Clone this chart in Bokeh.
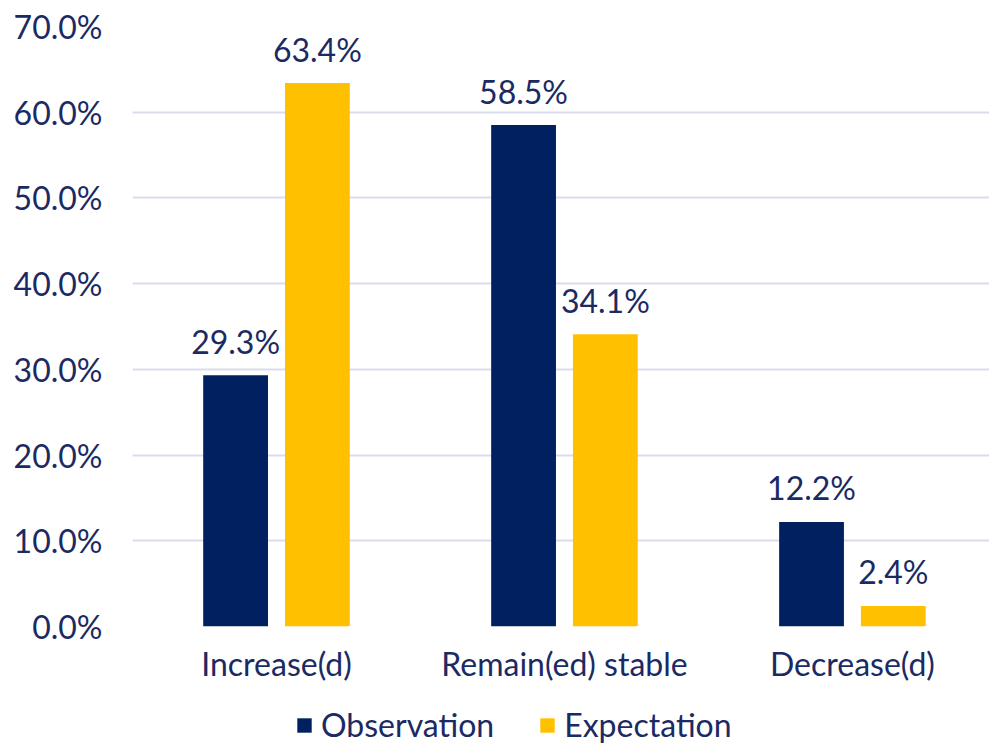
from bokeh.plotting import figure
from bokeh.layouts import column
from bokeh.models import ColumnDataSource, Range1d, Legend, LegendItem, FixedTicker
from bokeh.core.properties import value
from bokeh.embed import file_html
from bokeh.resources import INLINE

categories = ["Increase(d)", "Remain(ed) stable", "Decrease(d)"]
observation = [29.3, 58.5, 12.2]
expectation = [63.4, 34.1, 2.4]
y_ticks = [0, 10, 20, 30, 40, 50, 60, 70]

NAVY = "#002060"
GOLD = "#FFC000"
TEXT = "#1B2A63"
FONT = "Lato"
FS = "32px"

centers = [i + 0.5 for i in range(len(categories))]
off = 0.142
bw = 0.225

src_o = ColumnDataSource(dict(x=[c - off for c in centers], top=observation,
                              lab=[f"{v:.1f}%" for v in observation]))
src_e = ColumnDataSource(dict(x=[c + off for c in centers], top=expectation,
                              lab=[f"{v:.1f}%" for v in expectation]))

p = figure(width=989, height=700, output_backend="svg", toolbar_location=None,
           x_range=Range1d(0, 2.976), y_range=Range1d(0, 70),
           min_border_left=132, min_border_right=0, min_border_top=26, min_border_bottom=74)
p.outline_line_color = None
p.background_fill_color = "white"
p.border_fill_color = "white"

p.xgrid.grid_line_color = None
p.ygrid.grid_line_color = "#D9DCEB"
p.ygrid.grid_line_width = 2
p.ygrid.ticker = FixedTicker(ticks=y_ticks)

r_o = p.vbar(x="x", top="top", width=bw, source=src_o, color=NAVY, line_color=None)
r_e = p.vbar(x="x", top="top", width=bw, source=src_e, color=GOLD, line_color=None)

for s in (src_o, src_e):
    p.text(x="x", y="top", text="lab", source=s, text_align="center", text_baseline="alphabetic",
           y_offset=-34, text_color=TEXT, text_font=value(FONT), text_font_size=FS)

p.yaxis.ticker = FixedTicker(ticks=y_ticks)
p.yaxis.major_label_overrides = {t: f"{t:.1f}%" for t in y_ticks}
p.yaxis.axis_line_color = None
p.yaxis.major_tick_line_color = None
p.yaxis.minor_tick_line_color = None
p.yaxis.major_label_standoff = 24
p.yaxis.major_label_text_font = FONT
p.yaxis.major_label_text_font_size = FS
p.yaxis.major_label_text_color = TEXT

p.xaxis.ticker = FixedTicker(ticks=centers)
p.xaxis.major_label_overrides = {c: categories[i] for i, c in enumerate(centers)}
p.xaxis.axis_line_color = None
p.xaxis.major_tick_line_color = None
p.xaxis.minor_tick_line_color = None
p.xaxis.major_label_standoff = 11
p.xaxis.major_label_text_font = FONT
p.xaxis.major_label_text_font_size = FS
p.xaxis.major_label_text_color = TEXT

# legend strip
q = figure(width=989, height=44, output_backend="svg", toolbar_location=None,
           x_range=Range1d(0, 1), y_range=Range1d(0, 1),
           min_border=0)
q.outline_line_color = None
q.axis.visible = False
q.grid.visible = False
lo = q.vbar(x=[10], bottom=[-6], top=[-5], width=0.1, color=NAVY, line_color=None)
le = q.vbar(x=[10], bottom=[-6], top=[-5], width=0.1, color=GOLD, line_color=None)
legend = Legend(items=[LegendItem(label="Observation", renderers=[lo]),
                       LegendItem(label="Expectation", renderers=[le])],
                orientation="horizontal", location=(163, 0),
                label_text_font=FONT, label_text_font_size=FS, label_text_color=TEXT,
                glyph_width=18, glyph_height=18, spacing=44, label_standoff=8,
                border_line_color=None, background_fill_alpha=0, padding=0, margin=0)
q.add_layout(legend, "center")

open("out.html", "w").write(file_html(column(p, q, spacing=0), INLINE))
